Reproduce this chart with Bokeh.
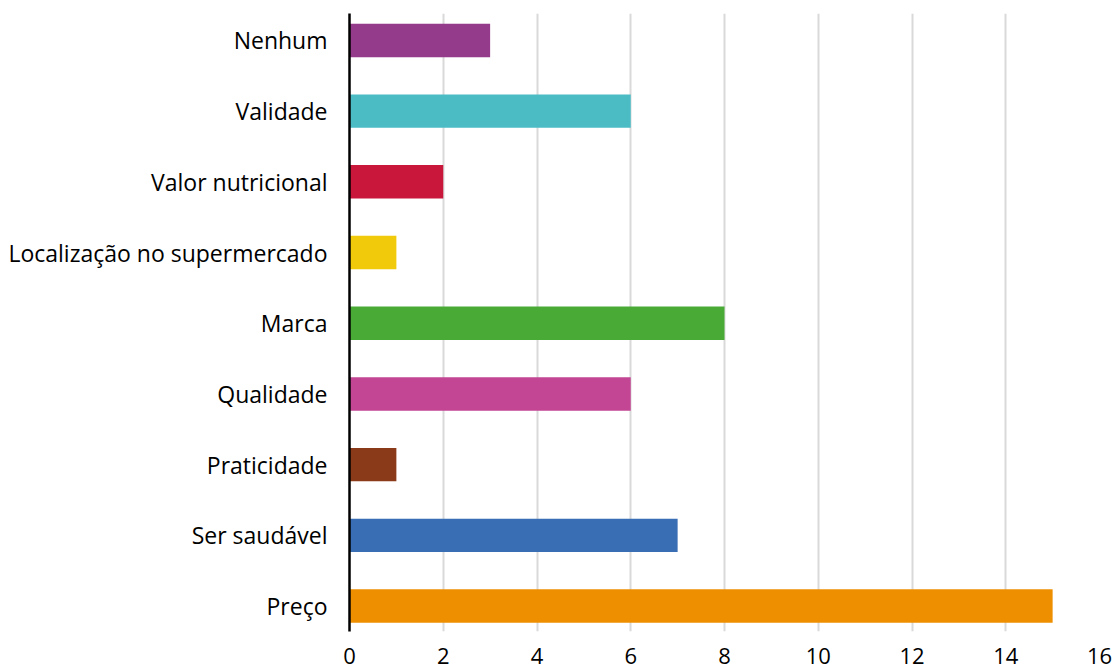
from bokeh.plotting import figure
from bokeh.models import ColumnDataSource, Range1d, FixedTicker
from bokeh.embed import file_html
from bokeh.resources import INLINE

# Data (bottom to top)
categories = ["Preço", "Ser saudável", "Praticidade", "Qualidade", "Marca",
              "Localização no supermercado", "Valor nutricional", "Validade", "Nenhum"]
values = [15, 7, 1, 6, 8, 1, 2, 6, 3]
colors = ["#EE8F00", "#3A6EB4", "#8B3A19", "#C24693", "#49AA36",
          "#F1CB0B", "#C8173B", "#4BBBC4", "#943B8B"]
x_ticks = [0, 2, 4, 6, 8, 10, 12, 14, 16]

positions = list(range(len(categories)))
source = ColumnDataSource(dict(y=positions, v=values, c=colors, name=categories))

p = figure(width=1115, height=666, output_backend="svg", toolbar_location=None,
           x_range=Range1d(0, 16), y_range=Range1d(-0.36, 8.381),
           min_border_left=349, min_border_right=16, min_border_top=13, min_border_bottom=34)
p.outline_line_color = None
p.background_fill_color = "white"
p.border_fill_color = "white"

p.hbar(y="y", right="v", left=0, height=0.473, fill_color="c", line_color=None, source=source)

# x axis
p.xaxis.ticker = FixedTicker(ticks=x_ticks)
p.xaxis.axis_line_color = None
p.xaxis.major_tick_line_color = None
p.xaxis.minor_tick_line_color = None
p.xaxis.major_label_text_font = "Open Sans"
p.xaxis.major_label_text_font_size = "22px"
p.xaxis.major_label_text_color = "#000000"
p.xaxis.major_label_standoff = 10

# y axis
p.yaxis.ticker = FixedTicker(ticks=positions)
p.yaxis.major_label_overrides = {i: name for i, name in enumerate(categories)}
p.yaxis.axis_line_color = "#000000"
p.yaxis.axis_line_width = 2.5
p.yaxis.major_tick_line_color = None
p.yaxis.minor_tick_line_color = None
p.yaxis.major_label_text_font = "Open Sans"
p.yaxis.major_label_text_font_size = "23px"
p.yaxis.major_label_text_color = "#000000"
p.yaxis.major_label_standoff = 16

p.xgrid.grid_line_color = "#D9D9D9"
p.xgrid.grid_line_width = 2
p.ygrid.grid_line_color = None

open("out.html", "w").write(file_html(p, INLINE))
